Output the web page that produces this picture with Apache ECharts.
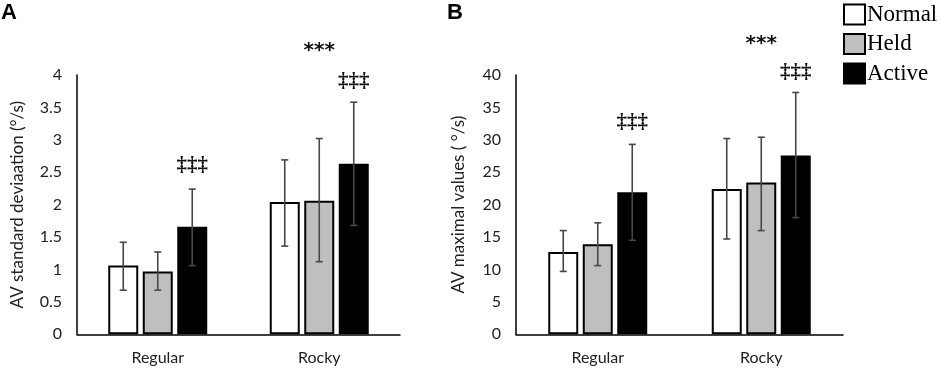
<!DOCTYPE html>
<html><head><meta charset="utf-8">
<script src="https://cdn.jsdelivr.net/npm/echarts@6/dist/echarts.min.js"></script>
<style>html,body{margin:0;padding:0;background:#fff}#c{width:941px;height:369px}</style>
</head><body><div id="c"></div>
<script>
// ---- data ----
const categories = ['Regular', 'Rocky'];
const seriesNames = ['Normal', 'Held', 'Active'];
// Panel A: AV standard deviation (°/s)
const sdMean = { Normal: [1.06, 2.04], Held: [0.97, 2.06], Active: [1.66, 2.63] };
const sdLow  = { Normal: [0.68, 1.36], Held: [0.68, 1.12], Active: [1.06, 1.68] };
const sdHigh = { Normal: [1.42, 2.69], Held: [1.27, 3.02], Active: [2.24, 3.58] };
// Panel B: AV maximal values (°/s)
const maxMean = { Normal: [12.7, 22.4], Held: [13.9, 23.4], Active: [21.9, 27.6] };
const maxLow  = { Normal: [9.7, 14.7], Held: [10.6, 16.0], Active: [14.5, 18.0] };
const maxHigh = { Normal: [16.0, 30.2], Held: [17.2, 30.4], Active: [29.3, 37.3] };
// significance marks: [categoryIndex, seriesSlot (null = category centre), value level, text]
const annotA = [[0, 2, 2.6, '‡‡‡'], [1, null, 4.38, '***'], [1, 2, 3.9, '‡‡‡']];
const annotB = [[0, 2, 32.7, '‡‡‡'], [1, null, 44.8, '***'], [1, 2, 40.3, '‡‡‡']];
const yTitleA = 'AV standard deviaation (°/s)';
const yTitleB = 'AV maximal values ( °/s)';

// ---- styling ----
const fills = { Normal: '#ffffff', Held: '#bfbfbf', Active: '#000000' };
const BW = 30, GAP = 0.15, PITCH = BW * (1 + GAP);
const sans = 'Lato, "Open Sans", sans-serif';

function bars(mean, idx) {
  return seriesNames.map(n => ({
    type: 'bar', name: n, xAxisIndex: idx, yAxisIndex: idx,
    data: mean[n], barWidth: BW, barGap: (GAP * 100) + '%',
    itemStyle: { color: fills[n], borderColor: '#000', borderWidth: 2 },
    emphasis: { disabled: true }, z: 2
  }));
}
function errs(low, high, idx) {
  const d = [];
  seriesNames.forEach((n, s) => categories.forEach((c, i) => d.push([i, low[n][i], high[n][i], s])));
  return {
    type: 'custom', xAxisIndex: idx, yAxisIndex: idx, data: d, z: 5, silent: true,
    renderItem(params, api) {
      const cat = api.value(0), s = api.value(3);
      const lo = api.coord([cat, api.value(1)]);
      const hi = api.coord([cat, api.value(2)]);
      const x = lo[0] + (s - 1) * PITCH;
      const st = { stroke: '#474747', lineWidth: 1.6 };
      return { type: 'group', children: [
        { type: 'line', shape: { x1: x, y1: lo[1], x2: x, y2: hi[1] }, style: st },
        { type: 'line', shape: { x1: x - 3.5, y1: lo[1], x2: x + 3.5, y2: lo[1] }, style: st },
        { type: 'line', shape: { x1: x - 3.5, y1: hi[1], x2: x + 3.5, y2: hi[1] }, style: st }
      ]};
    }
  };
}
function annots(list, idx) {
  return {
    type: 'custom', xAxisIndex: idx, yAxisIndex: idx, silent: true, z: 6,
    data: list.map(a => [a[0], a[2], a[1] === null ? -99 : a[1], a[3]]),
    renderItem(params, api) {
      const p = api.coord([api.value(0), api.value(1)]);
      const s = api.value(2);
      const x = p[0] + (s === -99 ? 0 : (s - 1) * PITCH);
      const t = list[params.dataIndex][3];
      return { type: 'text', x: x, y: p[1], style: {
        text: t, align: 'center', verticalAlign: 'middle',
        font: t === '***' ? 'bold 20px "DejaVu Sans", sans-serif' : 'bold 21px "Liberation Serif", serif',
        fill: '#111'
      }};
    }
  };
}
function xAx(idx) {
  return { type: 'category', gridIndex: idx, data: categories,
    axisLine: { lineStyle: { color: '#000', width: 1.5 } }, axisTick: { show: false },
    axisLabel: { color: '#222', fontFamily: sans, fontSize: 16, margin: 16 } };
}
function yAx(idx, max, interval, title) {
  return { type: 'value', gridIndex: idx, min: 0, max: max, interval: interval,
    name: title, nameLocation: 'middle', nameGap: idx === 0 ? 51 : 49, nameRotate: 90,
    nameTextStyle: { color: '#222', fontFamily: sans, fontSize: 17 },
    axisLine: { show: true, lineStyle: { color: '#000', width: 1.5 } }, axisTick: { show: false },
    splitLine: { show: false },
    axisLabel: { color: '#222', fontFamily: sans, fontSize: 16, margin: 15 } };
}

const chart = echarts.init(document.getElementById('c'), null, { renderer: 'canvas' });
chart.setOption({
  animation: false,
  backgroundColor: '#fff',
  grid: [
    { left: 77, width: 323, top: 75, bottom: 34.7 },
    { left: 516, width: 327, top: 75, bottom: 34.7 }
  ],
  xAxis: [xAx(0), xAx(1)],
  yAxis: [yAx(0, 4, 0.5, yTitleA), yAx(1, 40, 5, yTitleB)],
  legend: {
    data: seriesNames, orient: 'vertical', left: 843, top: 3, padding: 0,
    itemWidth: 21, itemHeight: 20, itemGap: 6.5, selectedMode: false,
    icon: 'rect',
    textStyle: { fontFamily: '"Liberation Serif", "Times New Roman", serif', fontSize: 23, color: '#000', padding: [0, 0, 0, -3] }
  },
  graphic: [
    { type: 'text', left: 1, top: 2, style: { text: 'A', font: 'bold 22px "Liberation Sans", Arial, sans-serif', fill: '#000' } },
    { type: 'text', left: 447, top: 2, style: { text: 'B', font: 'bold 22px "Liberation Sans", Arial, sans-serif', fill: '#000' } }
  ],
  series: [
    ...bars(sdMean, 0), errs(sdLow, sdHigh, 0), annots(annotA, 0),
    ...bars(maxMean, 1), errs(maxLow, maxHigh, 1), annots(annotB, 1)
  ]
});
</script></body></html>
